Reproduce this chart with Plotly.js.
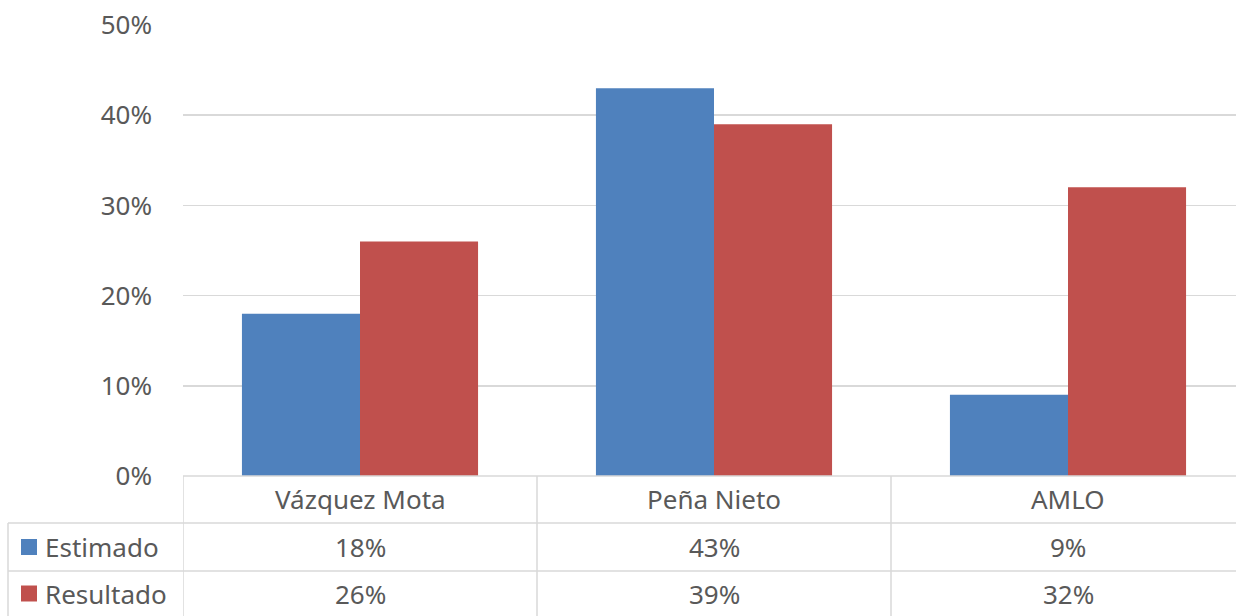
<!DOCTYPE html>
<html><head><meta charset="utf-8">
<script src="https://cdn.plot.ly/plotly-3.0.1.min.js"></script>
<style>html,body{margin:0;padding:0;background:#fff;overflow:hidden;width:1236px;height:616px}#chart{width:1245px;height:616px}</style>
</head><body><div id="chart"></div>
<script>
const categories = ["Vázquez Mota", "Peña Nieto", "AMLO"];
const seriesNames = ["Estimado", "Resultado"];
const estimado = [0.18, 0.43, 0.09];
const resultado = [0.26, 0.39, 0.32];
const colors = ["#4F81BD", "#C0504D"];
const yTicks = [0, 0.1, 0.2, 0.3, 0.4, 0.5];

const W = 1245, H = 616, mL = 183, mR = 0, mT = 25, mB = 140;
const plotW = W - mL - mR, plotH = H - mT - mB;
const py = p => (H - mB - p) / plotH;          // pixel-row -> paper y
const px = p => (p - mL) / plotW;              // pixel-col -> paper x

const font = "Noto Sans, Open Sans, sans-serif";
const fs = 26;
const txtColor = "#595959";
const lineColor = "#D9D9D9";

const rowTop = [476, 523, 571, 616];
const traces = [estimado, resultado].map((vals, i) => ({
  type: "bar", name: seriesNames[i], x: categories, y: vals,
  marker: {color: colors[i], line: {width: 0}}, hoverinfo: "none"
}));

const shapes = [];
const annotations = [];
shapes.push({type: "line", xref: "paper", yref: "paper", x0: 0, x1: 1, y0: py(rowTop[0]), y1: py(rowTop[0]), line: {color: lineColor, width: 1.5}});
for (let r = 1; r <= 2; r++) {
  shapes.push({type: "line", xref: "paper", yref: "paper", x0: px(8), x1: 1, y0: py(rowTop[r]), y1: py(rowTop[r]), line: {color: lineColor, width: 1.5}});
}
shapes.push({type: "line", xref: "paper", yref: "paper", x0: px(8), x1: px(8), y0: py(rowTop[1]), y1: py(H), line: {color: lineColor, width: 1.5}});
for (let k = 0; k <= categories.length; k++) {
  const xv = k - 0.5;
  shapes.push({type: "line", xref: "x", yref: "paper", x0: xv, x1: xv, y0: py(rowTop[0]), y1: py(H), line: {color: lineColor, width: 1.5}});
}
categories.forEach((c, i) => {
  annotations.push({xref: "x", yref: "paper", x: i, y: py((rowTop[0] + rowTop[1]) / 2), text: c, showarrow: false, font: {family: font, size: fs, color: txtColor}, xanchor: "center", yanchor: "middle"});
});
[estimado, resultado].forEach((vals, s) => {
  const sy = (rowTop[s + 1] + rowTop[s + 2]) / 2;
  const yc = py(sy);
  vals.forEach((v, i) => {
    annotations.push({xref: "x", yref: "paper", x: i, y: yc, text: Math.round(v * 100) + "%", showarrow: false, font: {family: font, size: fs, color: txtColor}, xanchor: "center", yanchor: "middle"});
  });
  shapes.push({type: "rect", xref: "paper", yref: "paper", x0: px(21), x1: px(37), y0: py(sy + 8), y1: py(sy - 8), fillcolor: colors[s], line: {width: 0}});
  annotations.push({xref: "paper", yref: "paper", x: px(43), y: yc, text: seriesNames[s], showarrow: false, font: {family: font, size: fs, color: txtColor}, xanchor: "left", yanchor: "middle"});
});

const layout = {
  width: W, height: H,
  margin: {l: mL, r: mR, t: mT, b: mB},
  paper_bgcolor: "#fff", plot_bgcolor: "#fff",
  showlegend: false,
  barmode: "group", bargap: 0.333, bargroupgap: 0,
  xaxis: {range: [-0.5, 2.5], showticklabels: false, showgrid: false, zeroline: false, showline: false, ticks: ""},
  yaxis: {range: [0, 0.5], tickvals: yTicks, ticktext: yTicks.map(t => Math.round(t * 100) + "%"),
          showgrid: true, gridcolor: lineColor, gridwidth: 1.5, zeroline: false, showline: false, ticks: "",
          ticklabelstandoff: 30, tickfont: {family: font, size: fs, color: txtColor}},
  shapes: shapes, annotations: annotations
};
Plotly.newPlot("chart", traces, layout, {displayModeBar: false, staticPlot: true});
</script></body></html>
